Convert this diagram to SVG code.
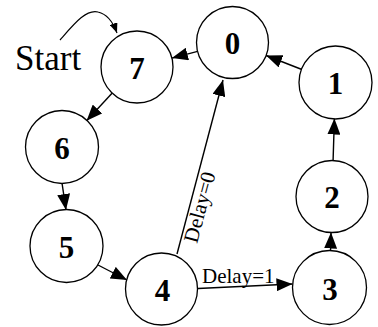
<svg xmlns="http://www.w3.org/2000/svg" width="378" height="327" viewBox="0 0 378 327">
  <style>
    .node circle { fill: #fff; stroke: #000; stroke-width: 1.3; }
    .node text { font-family: "Liberation Serif", "Times New Roman", serif; font-weight: bold; font-size: 31px; text-anchor: middle; fill: #000; }
    .edge { fill: none; stroke: #000; stroke-width: 1.4; marker-end: url(#arrow); }
    .start { fill: none; stroke: #000; stroke-width: 1.2; marker-end: url(#arrow-small); }
    .lbl { font-family: "Liberation Serif", "Times New Roman", serif; fill: #000; }
  </style>
  <defs>
    <marker id="arrow" viewBox="0 0 16 13" refX="16" refY="6.5" markerWidth="16" markerHeight="13" markerUnits="userSpaceOnUse" orient="auto">
      <path d="M0,0 L16,6.5 L0,13 z" fill="#000"/>
    </marker>
    <marker id="arrow-small" viewBox="0 0 10 8" refX="10" refY="4" markerWidth="10" markerHeight="8" markerUnits="userSpaceOnUse" orient="auto">
      <path d="M0,0 L10,4 L0,8 z" fill="#000"/>
    </marker>
  </defs>

  <!-- connectors -->
  <g id="edges">
    <path class="start" d="M60,40 C74,24 86,9 98,12 C107,14 113,22 117,33"/>
    <line class="edge" x1="197.6" y1="51.4" x2="171.9" y2="58.1"/>
    <line class="edge" x1="301.9" y1="69.5" x2="266.1" y2="55.5"/>
    <line class="edge" x1="333.1" y1="160.5" x2="334.4" y2="118.5"/>
    <line class="edge" x1="330.5" y1="251.5" x2="331" y2="232.5"/>
    <line class="edge" x1="198" y1="288.5" x2="292.5" y2="284"/>
    <line class="edge" x1="177" y1="254" x2="223" y2="80"/>
    <line class="edge" x1="98" y1="265" x2="127" y2="280"/>
    <line class="edge" x1="62" y1="183" x2="66" y2="210"/>
    <line class="edge" x1="112" y1="93.3" x2="86.6" y2="120.7"/>
    <text class="lbl" x="202" y="283" font-size="21">Delay=1</text>
    <text class="lbl" font-size="21" transform="translate(197,244) rotate(-75)">Delay=0</text>
    <text class="lbl" x="15" y="70" font-size="35">Start</text>
  </g>

  <!-- nodes -->
  <g id="n0" class="node"><circle cx="232.5" cy="42.5" r="36"/><text x="232.5" y="54">0</text></g>
  <g id="n1" class="node"><circle cx="335.5" cy="82.5" r="36.5"/><text x="335.5" y="94">1</text></g>
  <g id="n2" class="node"><circle cx="332" cy="196.5" r="36"/><text x="332" y="208">2</text></g>
  <g id="n3" class="node"><circle cx="329.5" cy="287.5" r="37"/><text x="330" y="299.5">3</text></g>
  <g id="n4" class="node"><circle cx="161.5" cy="289" r="36"/><text x="162.5" y="300.5">4</text></g>
  <g id="n5" class="node"><circle cx="66.5" cy="246" r="36.5"/><text x="66.5" y="257.5">5</text></g>
  <g id="n6" class="node"><circle cx="62" cy="147" r="36.5"/><text x="62" y="158.5">6</text></g>
  <g id="n7" class="node"><circle cx="137" cy="67" r="36"/><text x="137" y="78.5">7</text></g>
</svg>
